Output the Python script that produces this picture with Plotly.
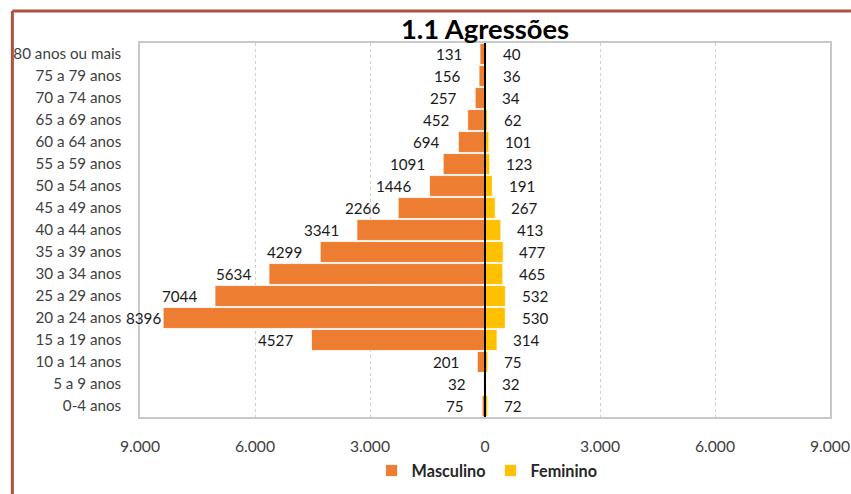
import plotly.graph_objects as go

# ── Data (bottom → top) ──────────────────────────────────────────────────────
faixas = ["0-4 anos", "5 a 9 anos", "10 a 14 anos", "15 a 19 anos", "20 a 24 anos",
          "25 a 29 anos", "30 a 34 anos", "35 a 39 anos", "40 a 44 anos",
          "45 a 49 anos", "50 a 54 anos", "55 a 59 anos", "60 a 64 anos",
          "65 a 69 anos", "70 a 74 anos", "75 a 79 anos", "80 anos ou mais"]
masculino = [75, 32, 201, 4527, 8396, 7044, 5634, 4299, 3341,
             2266, 1446, 1091, 694, 452, 257, 156, 131]
feminino = [72, 32, 75, 314, 530, 532, 465, 477, 413,
            267, 191, 123, 101, 62, 34, 36, 40]
tick_vals = [-9000, -6000, -3000, 0, 3000, 6000, 9000]
tick_text = ["9.000", "6.000", "3.000", "0", "3.000", "6.000", "9.000"]

ORANGE = "#ED7D31"
YELLOW = "#FFC000"
FONT = "Lato, 'Open Sans', sans-serif"

# the capture came out ~1.3% smaller than the layout size, so scale up a bit
S = 1 / 0.987


def px(v):
    return v * S


fig = go.Figure()

fig.add_trace(go.Bar(
    y=faixas, x=[-v for v in masculino], orientation="h", name="Masculino",
    marker=dict(color=ORANGE, line=dict(color="white", width=0.8)),
    hoverinfo="skip",
))
fig.add_trace(go.Bar(
    y=faixas, x=feminino, orientation="h", name="Feminino",
    marker=dict(color=YELLOW, line=dict(color="white", width=0.8)),
    hoverinfo="skip",
))

# ── Data labels ──────────────────────────────────────────────────────────────
for cat, m, f in zip(faixas, masculino, feminino):
    shift = -16 if m < 8000 else 0
    fig.add_annotation(x=-m, y=cat, text=str(m), showarrow=False,
                       xanchor="right", xshift=px(shift),
                       font=dict(size=px(15), color="#1a1a1a", family=FONT))
    fig.add_annotation(x=f, y=cat, text=str(f), showarrow=False,
                       xanchor="left", xshift=px(14),
                       font=dict(size=px(15), color="#1a1a1a", family=FONT))

# ── Zero line on top of bars ─────────────────────────────────────────────────
fig.add_shape(type="line", x0=0, x1=0, y0=0, y1=1, xref="x", yref="paper",
              line=dict(color="black", width=2), layer="above")

# ── Outer border (left + top, brownish red) ──────────────────────────────────
# plot area spans px 138..830 (x) and 42..416 (y) in the reference
fig.add_shape(type="line", xref="paper", yref="paper",
              x0=(10 - 138) / 692, x1=(10 - 138) / 692,
              y0=(416 - 494) / 374, y1=(416 - 10) / 374,
              line=dict(color="#B0503F", width=3))
fig.add_shape(type="line", xref="paper", yref="paper",
              x0=(10 - 138) / 692, x1=(851 - 138) / 692,
              y0=(416 - 10) / 374, y1=(416 - 10) / 374,
              line=dict(color="#B0503F", width=3))

fig.update_layout(
    width=round(px(851)), height=round(px(494)),
    margin=dict(l=px(138), r=px(21), t=px(42), b=px(78)),
    paper_bgcolor="white", plot_bgcolor="white",
    barmode="relative", bargap=0.05,
    title=dict(text="<b>1.1 Agressões</b>", x=0.5, xanchor="center",
               xref="paper", y=(494 - 29) / 494, yanchor="middle",
               font=dict(size=px(27), color="black", family=FONT)),
    xaxis=dict(range=[-9000, 9000], tickvals=tick_vals, ticktext=tick_text,
               showgrid=True, gridcolor="#D0D0D0", griddash="dot", gridwidth=1,
               zeroline=False, showline=True, linecolor="#C8C8C8", linewidth=1.5,
               mirror=True, ticks="", ticklabelstandoff=round(px(14)),
               tickfont=dict(size=px(15.5), color="#404040", family=FONT)),
    yaxis=dict(showgrid=False, zeroline=False, showline=True,
               linecolor="#C8C8C8", linewidth=1.5, mirror=True, ticks="",
               ticklabelstandoff=round(px(14)), categoryorder="array",
               categoryarray=faixas,
               tickfont=dict(size=px(15), color="#404040", family=FONT)),
    legend=dict(orientation="h", x=0.503, xanchor="center",
                y=(416 - 470) / 374, yanchor="middle",
                font=dict(size=px(16), color="#262626", family=FONT, weight="bold"),
                bgcolor="rgba(0,0,0,0)", itemwidth=30),
    showlegend=True,
)

fig.write_html(
    "out.html",
    config={"displayModeBar": False},
    post_script=("document.body.style.margin='0';"
                 "document.body.style.overflow='hidden';"
                 "document.documentElement.style.overflow='hidden';"),
)
